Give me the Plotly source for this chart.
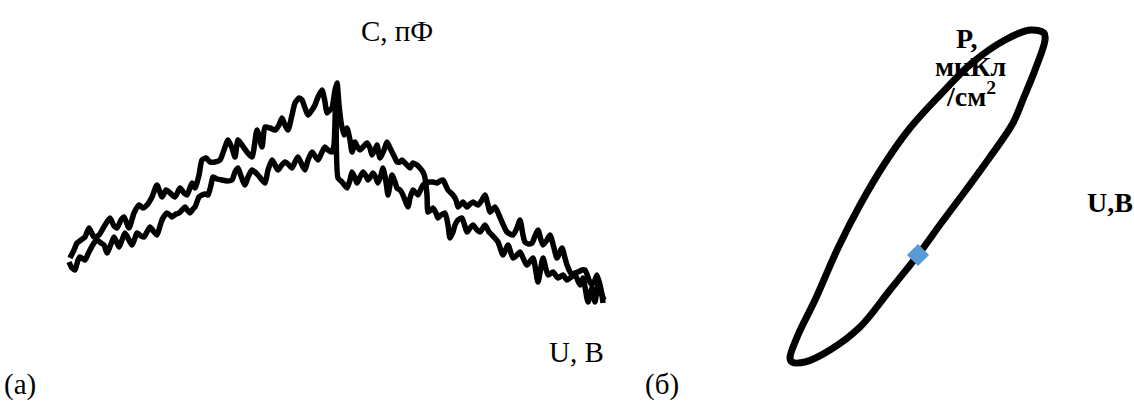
import plotly.graph_objects as go

# Panel (a): C-V butterfly loop, U in V, C in pF
U_a1 = [-26.7, -26.3, -26.0, -25.6, -25.2, -24.8, -24.3, -23.8, -23.2, -22.7, -22.3, -22.0, -21.6, -21.3, -20.8,
        -20.3, -19.8, -19.4, -19.0, -18.5, -18.0, -17.5, -17.1, -16.8, -16.2, -15.7, -15.3, -15.0, -14.5, -14.2,
        -13.8, -13.5, -13.1, -12.7, -12.2, -11.7, -11.3, -10.9, -10.5, -10.2, -9.9, -9.5, -9.0, -8.5, -8.0, -7.5,
        -7.2, -6.7, -6.2, -5.8, -5.5, -5.2, -4.9, -4.5, -4.2, -3.8, -3.5, -3.2, -2.9, -2.5, -2.2, -1.9, -1.5, -1.2,
        -1.0, -0.7, -0.5, -0.2, 0.0, 0.2, 0.4, 0.7, 1.0, 1.3, 1.5, 1.8, 2.1, 2.3, 2.6, 3.0, 3.3, 3.5, 3.8, 4.0, 4.3,
        4.7, 5.0, 5.3, 5.5, 5.8, 6.0, 6.3, 6.5, 6.8, 7.0, 7.3, 7.6, 8.0, 8.3, 8.6, 8.8, 9.0, 9.1, 9.4, 9.6, 9.9,
        10.1, 10.4, 10.8, 11.1, 11.3, 11.6, 11.8, 12.1, 12.5, 13.0, 13.3, 13.6, 14.0, 14.3, 14.8, 15.2, 15.5, 16.1,
        16.6, 17.1, 17.6, 18.0, 18.3, 18.7, 19.0, 19.6, 20.1, 20.6, 21.1, 21.6, 22.1, 22.6, 23.0, 23.3, 23.8, 24.3,
        24.6, 25.1, 25.5, 25.8, 26.1, 26.5, 26.7]
C_a1 = [6.2, 7.0, 7.7, 8.0, 8.3, 9.2, 8.3, 8.5, 9.5, 10.2, 9.4, 9.2, 10.0, 10.3, 9.2,
        10.7, 11.5, 11.2, 11.5, 12.3, 13.5, 12.3, 13.0, 12.8, 12.3, 13.2, 12.7, 12.5, 13.7, 13.2,
        14.5, 16.0, 16.2, 15.8, 15.8, 16.0, 17.0, 18.0, 17.2, 16.3, 18.0, 17.5, 16.8, 16.3, 19.0, 17.3,
        19.3, 19.2, 19.0, 19.5, 20.2, 19.5, 19.0, 20.5, 21.7, 22.2, 22.0, 21.2, 20.5, 21.0, 21.5, 22.3, 23.0, 21.8,
        20.7, 21.0, 21.2, 23.0, 23.7, 21.5, 19.8, 18.5, 19.2, 18.0, 16.8, 17.8, 17.2, 17.0, 17.3, 17.7, 17.2, 16.5, 17.0, 17.5, 16.2,
        17.0, 17.8, 17.2, 16.8, 16.2, 15.8, 15.8, 16.0, 15.7, 15.5, 15.2, 15.7, 15.5, 15.2, 14.8, 14.2, 12.5, 10.8, 11.0, 11.2, 10.7,
        10.2, 10.5, 10.7, 9.5, 8.2, 8.8, 9.5, 10.0, 10.2, 8.8, 9.2, 9.5, 9.0, 8.8, 9.5, 8.8, 8.5, 7.8,
        6.5, 7.5, 6.2, 6.5, 6.8, 6.0, 5.5, 6.2, 3.8, 6.2, 4.5, 4.8, 4.2, 4.5, 4.0, 4.2, 4.5, 3.5,
        4.2, 1.8, 3.2, 1.8, 3.5, 2.5, 2.0]

U_a2 = [-26.8, -26.5, -26.2, -25.9, -25.7, -25.2, -24.9, -24.7, -24.3, -24.0, -23.6, -23.3, -23.0, -22.6, -22.3,
        -22.0, -21.8, -21.5, -21.2, -20.8, -20.5, -20.2, -20.0, -19.6, -19.3, -19.0, -18.7, -18.3, -18.0, -17.7,
        -17.5, -17.2, -17.0, -16.7, -16.5, -16.1, -15.8, -15.5, -15.2, -14.9, -14.7, -14.4, -14.2, -13.8, -13.5,
        -13.2, -12.9, -12.6, -12.4, -12.0, -11.5, -11.0, -10.5, -10.2, -9.9, -9.6, -9.2, -8.9, -8.5, -8.2, -7.9,
        -7.5, -7.2, -6.9, -6.5, -6.2, -5.9, -5.6, -5.2, -4.8, -4.5, -4.2, -3.9, -3.5, -3.2, -2.9, -2.5, -2.2, -1.9,
        -1.5, -1.2, -0.9, -0.5, -0.3, -0.1, 0.1, 0.5, 1.0, 1.3, 1.5, 1.8, 2.0, 2.3, 2.6, 2.9, 3.1, 3.4, 3.6, 3.9,
        4.1, 4.4, 4.6, 4.9, 5.1, 5.3, 5.5, 5.8, 6.0, 6.3, 6.5, 6.8, 7.1, 7.3, 7.6, 7.9, 8.1, 8.4, 8.6, 8.9, 9.3,
        9.6, 10.0, 10.3, 10.6, 10.9, 11.1, 11.4, 11.6, 11.9, 12.1, 12.4, 12.6, 13.0, 13.3, 13.6, 14.1, 14.5, 14.8,
        15.1, 15.3, 15.8, 16.2, 16.5, 17.0, 17.6, 18.0, 18.3, 18.6, 18.8, 19.2, 19.5, 19.8, 20.1, 20.4, 20.6, 21.0,
        21.3, 21.7, 22.0, 22.5, 22.8, 23.0, 23.5, 23.8, 24.1, 24.5, 24.8, 25.2, 25.5, 25.8, 26.0, 26.3, 26.5, 26.6]
C_a2 = [5.8, 5.2, 5.0, 6.0, 6.3, 6.0, 6.6, 7.0, 7.7, 8.0, 7.7, 7.5, 6.7, 7.6, 8.3,
        7.7, 7.3, 8.0, 8.7, 8.0, 7.5, 8.2, 8.7, 8.4, 8.3, 8.8, 9.3, 8.8, 8.5, 9.4,
        10.0, 10.5, 10.7, 10.5, 10.3, 10.6, 10.7, 11.0, 11.3, 10.9, 10.7, 11.1, 11.3, 12.3, 12.5,
        12.6, 12.5, 13.5, 14.3, 14.1, 14.0, 13.9, 14.0, 14.8, 15.2, 14.4, 13.5, 14.3, 15.0, 14.8, 14.5,
        14.0, 13.7, 15.0, 16.0, 15.5, 15.0, 15.4, 15.8, 15.5, 15.2, 15.8, 16.3, 15.5, 15.0, 16.0, 16.8, 16.4, 16.0,
        16.8, 17.3, 17.0, 16.8, 17.5, 23.2, 14.2, 13.8, 13.2, 14.0, 14.8, 14.2, 13.7, 14.3, 14.8, 14.4, 14.0, 14.4, 14.7, 14.2,
        13.7, 14.5, 15.2, 13.8, 12.5, 13.5, 14.5, 13.8, 13.2, 13.0, 12.7, 12.0, 11.3, 12.2, 13.0, 12.7, 12.5, 13.1, 13.5, 13.7, 13.8,
        13.8, 13.7, 13.9, 14.0, 13.4, 13.0, 12.7, 12.5, 12.0, 11.3, 11.6, 11.8, 11.3, 11.6, 11.8, 11.5, 12.0, 12.5,
        11.5, 10.8, 11.3, 10.5, 9.8, 8.8, 8.5, 9.2, 10.0, 8.5, 7.8, 7.6, 7.7, 8.4, 9.0, 8.0, 7.5, 8.0,
        8.5, 7.2, 6.2, 7.2, 6.2, 5.5, 4.5, 4.7, 4.8, 5.0, 5.0, 4.0, 3.5, 4.0, 4.5, 3.5, 2.5, 1.7]

# Panel (б): P-U hysteresis loop, U in V, P in uC/cm2
U_b = [-12.8, -12.0, -10.3, -8.0, -5.8, -3.3, -0.8, 2.2, 5.4, 8.7, 11.2, 12.6, 12.7, 11.7, 10.6, 9.5,
       7.2, 4.8, 2.4, 0.0, -2.8, -5.8, -8.8, -11.3, -12.6, -12.8]
P_b = [-10.3, -8.0, -4.5, 0.7, 5.0, 9.2, 12.7, 16.0, 19.2, 21.5, 22.5, 22.2, 21.5, 18.5, 15.8, 13.2,
       9.8, 6.5, 3.3, 0.0, -3.5, -7.2, -9.5, -10.7, -10.7, -10.3]
U_mark = [0.0]
P_mark = [0.0]

SERIF = "Liberation Serif, Times New Roman, serif"

fig = go.Figure()
for U, C in [(U_a1, C_a1), (U_a2, C_a2)]:
    fig.add_trace(go.Scatter(x=U, y=C, mode="lines",
                             line=dict(color="black", width=5.5, shape="spline", smoothing=0.6),
                             xaxis="x", yaxis="y", showlegend=False, hoverinfo="skip"))
fig.add_trace(go.Scatter(x=U_b, y=P_b, mode="lines",
                         line=dict(color="black", width=7, shape="spline", smoothing=1.0),
                         xaxis="x2", yaxis="y2", showlegend=False, hoverinfo="skip"))
fig.add_trace(go.Scatter(x=U_mark, y=P_mark, mode="markers",
                         marker=dict(symbol="diamond", size=17, color="#5B9BD5"),
                         xaxis="x2", yaxis="y2", showlegend=False, hoverinfo="skip"))

ax = dict(visible=False, showgrid=False, zeroline=False, fixedrange=True)
fig.update_layout(
    width=1134, height=402,
    margin=dict(l=0, r=0, t=0, b=0),
    paper_bgcolor="white", plot_bgcolor="white",
    xaxis=dict(domain=[0, 0.6], range=[-33.7, 34.34], **ax),
    yaxis=dict(domain=[0, 1], range=[-8.2, 32.0], **ax),
    xaxis2=dict(domain=[0.6, 1], range=[-23.76, 21.6], anchor="y2", **ax),
    yaxis2=dict(domain=[0, 1], range=[-14.7, 25.5], anchor="x2", **ax),
)

def ann(text, px, py, size, bold=False, xanchor="center"):
    t = f"<b>{text}</b>" if bold else text
    fig.add_annotation(text=t, x=px / 1134, y=1 - py / 402, xref="paper", yref="paper",
                       xanchor=xanchor, yanchor="middle", showarrow=False,
                       font=dict(family=SERIF, size=size, color="black"))

ann("C, пФ", 397, 31, 29)
ann("U, В", 576, 352, 29)
ann("(а)", 2, 384, 29, xanchor="left")
ann("(б)", 643, 384, 29, xanchor="left")
ann("P,", 967, 38, 28, bold=True)
ann("мкКл", 970, 67, 28, bold=True)
ann("/см<sup>2</sup>", 971, 95, 28, bold=True)
ann("U,В", 1110, 202, 28, bold=True)

fig.write_html("out.html")
